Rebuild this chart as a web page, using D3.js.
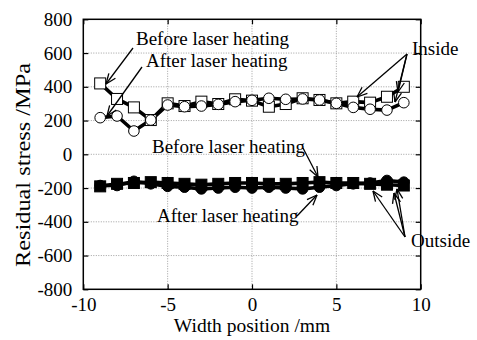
<!DOCTYPE html>
<html><head><meta charset="utf-8">
<script src="https://cdn.jsdelivr.net/npm/d3@7"></script>
<style>body{margin:0;background:#fff}svg{display:block}</style>
</head><body>
<script>
const positions = [-9,-8,-7,-6,-5,-4,-3,-2,-1,0,1,2,3,4,5,6,7,8,9];
const insideBefore = [420,328,278,203,302,286,312,298,326,318,282,298,332,322,302,312,306,341,400];
const insideAfter  = [217,227,138,203,292,282,286,296,312,320,332,326,328,322,302,278,267,262,306];
const outsideBefore = [-190,-175,-170,-165,-170,-175,-180,-175,-170,-170,-175,-175,-170,-165,-170,-170,-175,-180,-185];
const outsideAfter  = [-185,-185,-160,-175,-190,-195,-205,-200,-195,-200,-195,-200,-205,-195,-185,-175,-170,-155,-165];
const xTicks = [-10,-5,0,5,10];
const yTicks = [-800,-600,-400,-200,0,200,400,600,800];

const W = 477, H = 340;
const m = {left:83.3, top:19.3, right:W-420.7, bottom:H-289.3};
const FONT = '"Liberation Serif"';
const svg = d3.select("body").append("svg").attr("width",W).attr("height",H);
const x = d3.scaleLinear().domain([-10,10]).range([m.left, W-m.right]);
const y = d3.scaleLinear().domain([-800,800]).range([H-m.bottom, m.top]);

// grid
const g = svg.append("g");
g.selectAll(".gx").data(xTicks.slice(1,-1)).join("line")
  .attr("x1",d=>x(d)).attr("x2",d=>x(d)).attr("y1",y(-800)).attr("y2",y(800))
  .attr("stroke","#888").attr("stroke-width",0.8).attr("stroke-dasharray","1,1.5");
g.selectAll(".gy").data(yTicks.slice(1,-1)).join("line")
  .attr("y1",d=>y(d)).attr("y2",d=>y(d)).attr("x1",x(-10)).attr("x2",x(10))
  .attr("stroke","#888").attr("stroke-width",0.8).attr("stroke-dasharray","1,1.5");

// axes
const fmt = d => String(d);
const styleAxis = s => {
  s.attr("font-family",null).attr("font-size",null);
  s.selectAll(".domain").remove();
  s.selectAll("line").attr("stroke","#000").attr("stroke-width",1.2);
  s.selectAll("text").style("font-family",FONT).style("font-size","19px").attr("fill","#000");
};
svg.append("g").attr("transform",`translate(0,${y(-800)})`)
  .call(d3.axisBottom(x).tickValues(xTicks).tickSize(-5).tickPadding(8).tickFormat(fmt)).call(styleAxis);
svg.append("g").attr("transform",`translate(0,${y(800)})`)
  .call(d3.axisTop(x).tickValues(xTicks).tickSize(-5).tickFormat("")).call(styleAxis);
svg.append("g").attr("transform",`translate(${x(-10)},0)`)
  .call(d3.axisLeft(y).tickValues(yTicks).tickSize(-5).tickPadding(11).tickFormat(fmt)).call(styleAxis);
svg.append("g").attr("transform",`translate(${x(10)},0)`)
  .call(d3.axisRight(y).tickValues(yTicks).tickSize(-5).tickFormat("")).call(styleAxis);
svg.append("rect").attr("x",x(-10)).attr("y",y(800)).attr("width",x(10)-x(-10)).attr("height",y(-800)-y(800))
  .attr("fill","none").attr("stroke","#000").attr("stroke-width",1.5);

// titles
svg.append("text").attr("x",(x(-10)+x(10))/2).attr("y",332).attr("text-anchor","middle")
  .style("font-family",FONT).style("font-size","19.5px").text("Width position /mm");
svg.append("text").attr("transform",`translate(30,165) rotate(-90)`).attr("text-anchor","middle")
  .style("font-family",FONT).style("font-size","21px")
  .attr("textLength",204).attr("lengthAdjust","spacingAndGlyphs").text("Residual stress /MPa");

// series
const line = d3.line().x((d,i)=>x(positions[i])).y(d=>y(d));
const series = [
  {v:insideBefore, shape:"square", fill:"#fff"},
  {v:insideAfter, shape:"circle", fill:"#fff"},
  {v:outsideBefore, shape:"square", fill:"#000"},
  {v:outsideAfter, shape:"circle", fill:"#000"}
];
series.forEach(s=>{
  svg.append("path").datum(s.v).attr("d",line).attr("fill","none").attr("stroke","#000").attr("stroke-width",3.6).attr("stroke-linejoin","round");
});
series.forEach(s=>{
  const gg = svg.append("g");
  if(s.shape==="square"){
    gg.selectAll("rect").data(s.v).join("rect")
      .attr("x",(d,i)=>x(positions[i])-5.5).attr("y",d=>y(d)-5.5).attr("width",11).attr("height",11)
      .attr("fill",s.fill).attr("stroke","#000").attr("stroke-width",1);
  } else {
    gg.selectAll("circle").data(s.v).join("circle")
      .attr("cx",(d,i)=>x(positions[i])).attr("cy",d=>y(d)).attr("r",5.3)
      .attr("fill",s.fill).attr("stroke","#000").attr("stroke-width",1);
  }
});

// annotations
function arrow(x1,y1,x2,y2){
  const a = Math.atan2(y2-y1,x2-x1), L=11, w=0.38;
  svg.append("line").attr("x1",x1).attr("y1",y1).attr("x2",x2).attr("y2",y2).attr("stroke","#000").attr("stroke-width",1.3);
  [a+w,a-w].forEach(b=>svg.append("line").attr("x1",x2).attr("y1",y2)
    .attr("x2",x2-L*Math.cos(b)).attr("y2",y2-L*Math.sin(b)).attr("stroke","#000").attr("stroke-width",1.3));
}
function label(t,xx,yy){
  svg.append("text").attr("x",xx).attr("y",yy).style("font-family",FONT).style("font-size","19px").text(t);
}
label("Before laser heating",136,45);
label("After laser heating",146,67);
arrow(133,48,106,84);
arrow(142,67,107,116);
label("Inside",412,55);
arrow(407,54,357,97);
arrow(407,54,398,92);
arrow(407,54,395,102);
label("Before laser heating",152,153);
arrow(303,148,318,177);
label("After laser heating",157,222);
arrow(297,216,317,195);
label("Outside",411,247);
arrow(405,237,373,191);
arrow(405,237,394,193);
arrow(405,237,397,189);
</script>
</body></html>
